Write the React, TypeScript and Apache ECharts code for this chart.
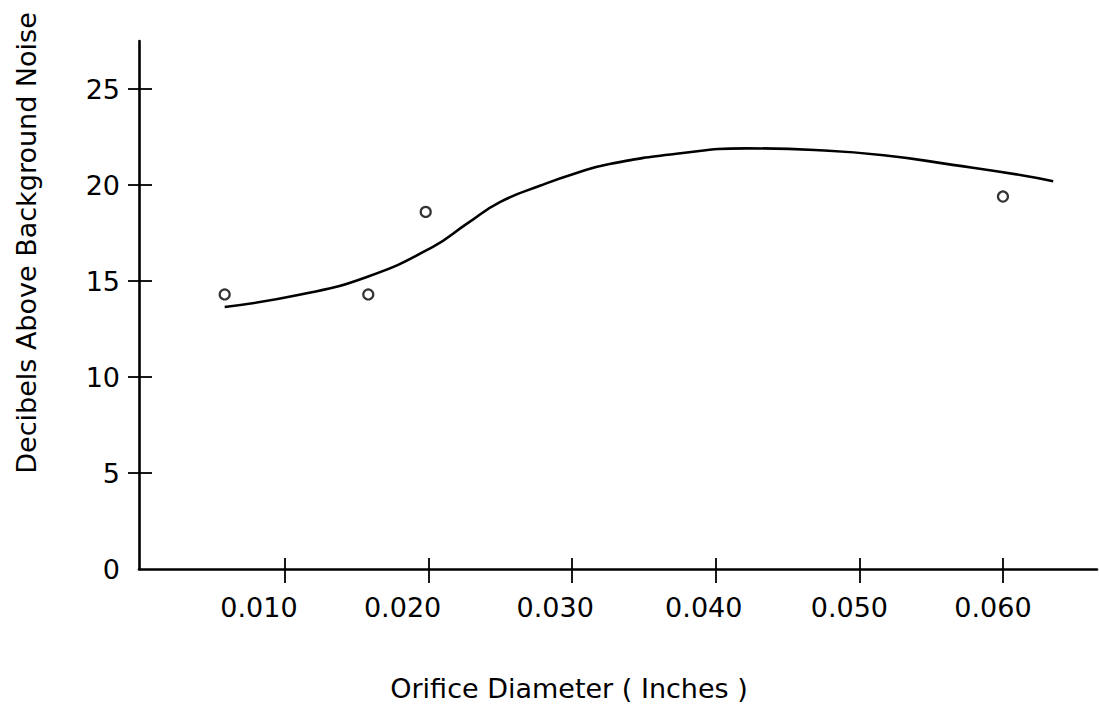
import React, { useEffect, useRef } from "react";
import * as echarts from "echarts";

// Tick positions and labels
const xTickValues = [0.01, 0.02, 0.03, 0.04, 0.05, 0.06];
const xTickLabels = ["0.010", "0.020", "0.030", "0.040", "0.050", "0.060"];
const yTickValues = [5, 10, 15, 20, 25];
const yLabelValues = [0, 5, 10, 15, 20, 25];

// Measured points (orifice diameter in inches, dB above background noise)
const pointX = [0.0058, 0.0158, 0.0198, 0.06];
const pointY = [14.3, 14.3, 18.6, 19.4];

// Fitted curve
const curveX = [0.0058, 0.011, 0.0157, 0.0203, 0.0227, 0.025, 0.0278, 0.0302, 0.0326, 0.0374, 0.0421, 0.0469, 0.0517, 0.0565, 0.0613, 0.0635];
const curveY = [13.65, 14.28, 15.21, 16.78, 18.0, 19.12, 19.97, 20.6, 21.09, 21.64, 21.91, 21.82, 21.55, 21.05, 20.51, 20.2];

const xTitle = "Orifice Diameter ( Inches )";
const yTitle = "Decibels Above Background Noise";

const FONT = "DejaVu Sans";

export default function App() {
  const ref = useRef<HTMLDivElement>(null);

  useEffect(() => {
    if (!ref.current) return;
    const chart = echarts.init(ref.current, undefined, { renderer: "svg" });

    const labelShift = [-26, -26, -17, -12, -10, -10];
    const rich: Record<string, any> = {};
    labelShift.forEach((s, i) => {
      rich["s" + i] = {
        fontFamily: FONT,
        fontSize: 27,
        color: "#000",
        padding: [0, -2 * s, 0, 0],
      };
    });

    const gridRect = { left: 139, top: 41, width: 958, height: 528, containLabel: false };
    const baseX = {
      type: "value",
      min: -0.000167,
      max: 0.06655,
      position: "bottom",
      splitLine: { show: false },
    };
    const baseY = {
      type: "value",
      min: 0,
      max: 27.5,
      position: "left",
      splitLine: { show: false },
    };
    const tickStyle = { color: "#000", width: 1.8 };
    const hiddenLine = { show: true, onZero: false, lineStyle: { color: "#000", width: 0.01, opacity: 0 } };

    chart.setOption({
      animation: false,
      backgroundColor: "#fff",
      grid: [gridRect, { ...gridRect }],
      xAxis: [
        {
          ...baseX,
          gridIndex: 0,
          axisLine: { show: true, onZero: false, lineStyle: { color: "#000", width: 2.6 } },
          axisTick: {
            show: true,
            inside: false,
            length: 14,
            customValues: xTickValues,
            lineStyle: tickStyle,
          },
          axisLabel: {
            show: true,
            customValues: xTickValues,
            margin: 25,
            fontFamily: FONT,
            fontSize: 27,
            color: "#000",
            rich,
            formatter: (v: number) => {
              const i = xTickValues.findIndex((t) => Math.abs(t - v) < 1e-6);
              if (i < 0) return "";
              return "{s" + i + "|" + xTickLabels[i] + "}";
            },
          },
        },
        {
          ...baseX,
          gridIndex: 1,
          axisLine: hiddenLine,
          axisTick: {
            show: true,
            inside: true,
            length: 11,
            customValues: xTickValues,
            lineStyle: tickStyle,
          },
          axisLabel: { show: true, customValues: xTickValues, color: "rgba(0,0,0,0)", fontSize: 1, formatter: () => "" },
        },
      ],
      yAxis: [
        {
          ...baseY,
          gridIndex: 0,
          axisLine: { show: true, onZero: false, lineStyle: { color: "#000", width: 2.6 } },
          axisTick: {
            show: true,
            inside: false,
            length: 11,
            customValues: yTickValues,
            lineStyle: tickStyle,
          },
          axisLabel: {
            show: true,
            customValues: yLabelValues,
            margin: 19,
            fontFamily: FONT,
            fontSize: 27,
            color: "#000",
          },
        },
        {
          ...baseY,
          gridIndex: 1,
          axisLine: hiddenLine,
          axisTick: {
            show: true,
            inside: true,
            length: 13,
            customValues: yTickValues,
            lineStyle: tickStyle,
          },
          axisLabel: { show: true, customValues: yTickValues, color: "rgba(0,0,0,0)", fontSize: 1, formatter: () => "" },
        },
      ],
      graphic: [
        {
          type: "text",
          x: 569,
          y: 688,
          style: {
            text: xTitle,
            fontFamily: FONT,
            fontSize: 27,
            fill: "#000",
            align: "center",
            verticalAlign: "middle",
          },
        },
        {
          type: "text",
          x: 26,
          y: 243,
          rotation: Math.PI / 2,
          style: {
            text: yTitle,
            fontFamily: FONT,
            fontSize: 27,
            fill: "#000",
            align: "center",
            verticalAlign: "middle",
          },
        },
      ],
      series: [
        {
          type: "line",
          xAxisIndex: 0,
          yAxisIndex: 0,
          smooth: 0.5,
          symbol: "none",
          lineStyle: { color: "#000", width: 2.6 },
          data: curveX.map((x, i) => [x, curveY[i]]),
          z: 2,
        },
        {
          type: "scatter",
          xAxisIndex: 0,
          yAxisIndex: 0,
          symbol: "circle",
          symbolSize: 10,
          itemStyle: { color: "#fff", borderColor: "#000", borderWidth: 2.2 },
          data: pointX.map((x, i) => [x, pointY[i]]),
          z: 3,
        },
        {
          // invisible twin so that the second (inside-tick) grid is not blank
          type: "scatter",
          xAxisIndex: 1,
          yAxisIndex: 1,
          symbolSize: 0,
          silent: true,
          itemStyle: { opacity: 0 },
          data: pointX.map((x, i) => [x, pointY[i]]),
          z: 0,
        },
      ],
    });

    return () => chart.dispose();
  }, []);

  return (
    <div
      ref={ref}
      style={{ position: "absolute", left: 0, top: 0, width: 1099, height: 707, background: "#fff" }}
    />
  );
}
